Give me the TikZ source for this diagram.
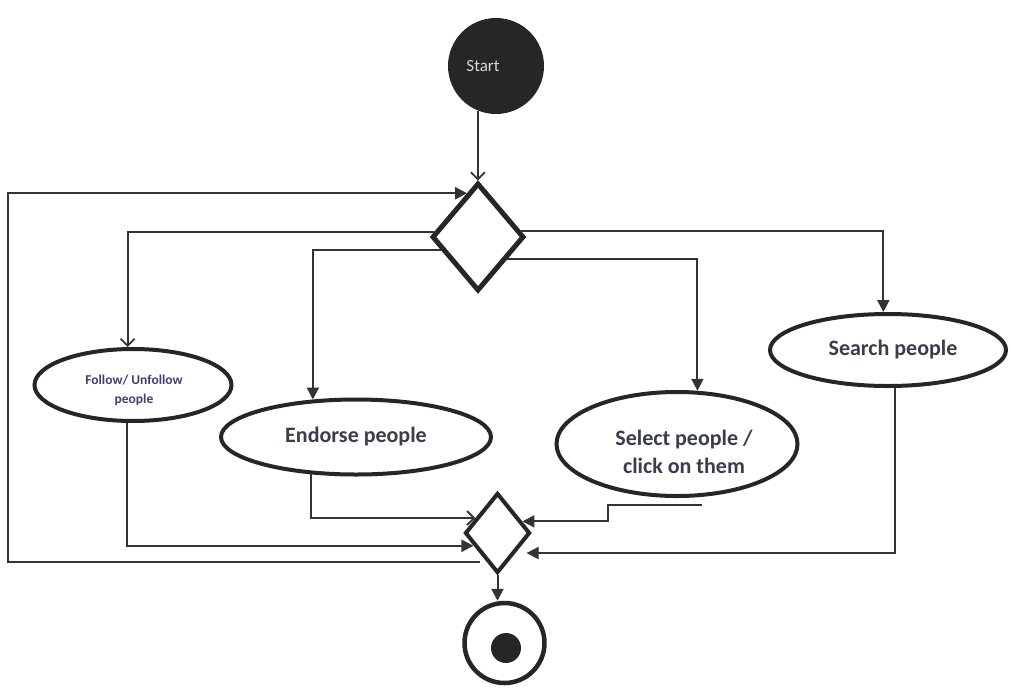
\documentclass[tikz,border=0pt]{standalone}
\usepackage{fontspec}
\setmainfont{Carlito}
\usetikzlibrary{shapes.geometric,arrows.meta}

\definecolor{ink}{HTML}{262626}
\definecolor{wire}{HTML}{333333}
\definecolor{txt}{HTML}{3A3D4A}
\definecolor{txtblue}{HTML}{3C4170}

\begin{document}
\begin{tikzpicture}[x=1pt,y=-1pt,
  act/.style={ellipse, draw=ink, line width=4pt, inner sep=0pt},
  gate/.style={diamond, draw=ink, inner sep=0pt, aspect=1},
  conn/.style={draw=wire, line width=2pt},
  filltip/.style={-{Triangle[length=12pt,width=12pt]}},
  opentip/.style={-{Straight Barb[length=7pt,width=14pt,line width=1.8pt]}},
  lbl/.style={font=\bfseries\fontsize{22}{28}\selectfont, text=txt, align=center},
]
% page frame
\fill[white] (0,0) rectangle (1011,688);
\useasboundingbox (0,0) rectangle (1011,688);

% initial node
\node[circle, fill=ink, minimum size=96pt, inner sep=0pt] (start) at (496,66) {};
\node[font=\fontsize{17}{20}\selectfont, text=white!85!black] (startlbl) at (483,66) {Start};

% decision and merge nodes
\node[gate, line width=5pt, minimum width=92pt, minimum height=108pt] (d1) at (478,237) {};
\node[gate, line width=4pt, minimum width=65pt, minimum height=80pt] (d2) at (497.5,533) {};

% activities
\node[act, minimum width=197pt, minimum height=72pt] (follow) at (133,385) {};
\node[font=\bfseries\fontsize{13.5}{19}\selectfont, text=txtblue, align=center] (followlbl) at (134,390) {Follow/ Unfollow\\people};

\node[act, minimum width=270pt, minimum height=75pt] (endorse) at (356,437) {};
\node[lbl] (endorselbl) at (356,437) {Endorse people};

\node[act, minimum width=241pt, minimum height=104pt] (select) at (677,444) {};
\node[lbl] (selectlbl) at (684,452) {Select people /\\click on them};

\node[act, minimum width=236pt, minimum height=72pt] (search) at (888,350) {};
\node[lbl] (searchlbl) at (893,350) {Search people};

% final node
\node[circle, draw=ink, line width=4.5pt, minimum size=80pt, inner sep=0pt] (endc) at (504.5,643) {};
\node[circle, fill=ink, minimum size=30pt, inner sep=0pt] (enddot) at (506,648) {};

% free ends of connectors
\coordinate (loopfree) at (480,562);
\coordinate (loopcorner) at (8,562);
\coordinate (selfree) at (702,505);

% flow from start into the decision
\draw[conn, opentip] (start.248) -- (start.248 |- d1.north);

% branches out of the decision
\draw[conn, opentip] (d1.173) -| (follow.98);
\draw[conn, filltip] (d1.200) -| (endorse.139);
\draw[conn, filltip] (d1.8) -| (search.97);
\draw[conn, filltip] (d1.-37) -| (select.69);

% flows into the merge
\draw[conn, filltip] (follow.261) |- (d2.208);
\draw[conn, opentip] (endorse.220) |- (d2.146);
\draw[conn, filltip] (selfree) -- ++(-94,0) |- (d2.25);
\draw[conn, filltip, shorten >=11pt] (search.281) |- (d2.312);

% loop back to the decision
\draw[conn, filltip] (loopfree) -- (loopcorner) |- (d1.104);

% merge to final node
\draw[conn, filltip] (d2.south) -- (d2.south |- endc.north);
\end{tikzpicture}
\end{document}
